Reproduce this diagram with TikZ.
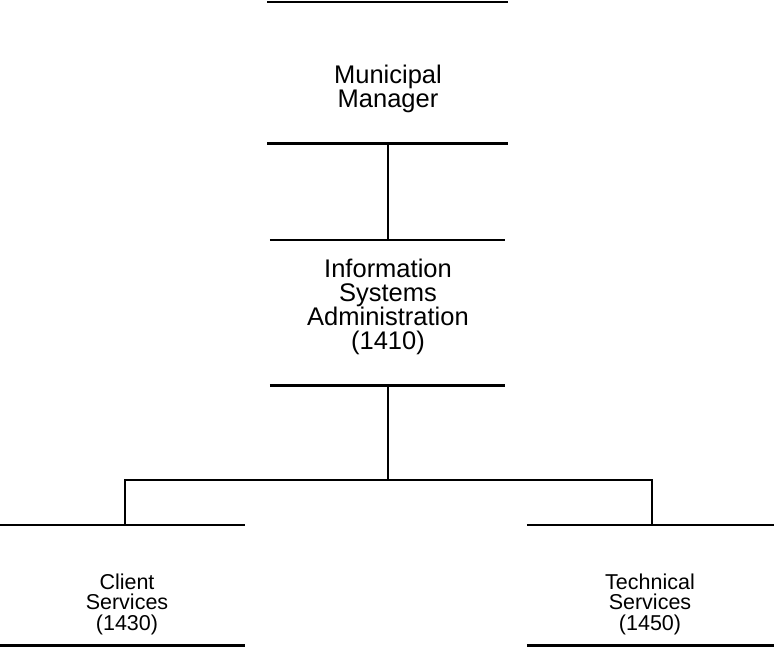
\documentclass[tikz,border=0pt]{standalone}
\usepackage{fontspec}
\setmainfont{Liberation Sans}
\begin{document}
\begin{tikzpicture}[x=1pt,y=-1pt,
  rule/.style={line width=2.6pt},
  conn/.style={line width=2pt},
  big/.style={align=center,font=\fontsize{25.5}{24}\selectfont,inner sep=0pt},
  small/.style={align=center,font=\fontsize{21.5}{20.5}\selectfont,inner sep=0pt},
  box/.style={rectangle,inner sep=0pt,minimum width=#1}]
\useasboundingbox (0,0) rectangle (774,648);
% boxes (top and bottom rules)
\node[box=240,minimum height=141] (mm) at (387.5,72.5) {};
\node[box=235,minimum height=145] (isa) at (387.5,312.5) {};
\node[box=245,minimum height=120] (cs) at (122.5,585) {};
\node[box=247,minimum height=120] (ts) at (650.5,585) {};
\foreach \b in {mm,isa,cs,ts}{
  \draw[rule] (\b.north west) -- (\b.north east);
  \draw[rule] (\b.south west) -- (\b.south east);
}
% texts
\node[big] (mmt) at (388,89) {Municipal\\Manager};
\node[big] (isat) at (388,307) {Information\\Systems\\Administration\\(1410)};
\node[small] (cst) at (127,604) {Client\\Services\\(1430)};
\node[small] (tst) at (650,604) {Technical\\Services\\(1450)};
% connectors
\draw[conn] (mm.south) -- (isa.north);
\draw[conn] (isa.south) -- ++(0,95) coordinate (bar);
\draw[conn] ([xshift=2.5pt]cs.north) |- (bar);
\draw[conn] (bar) -| ([xshift=1.5pt]ts.north);
\end{tikzpicture}
\end{document}
